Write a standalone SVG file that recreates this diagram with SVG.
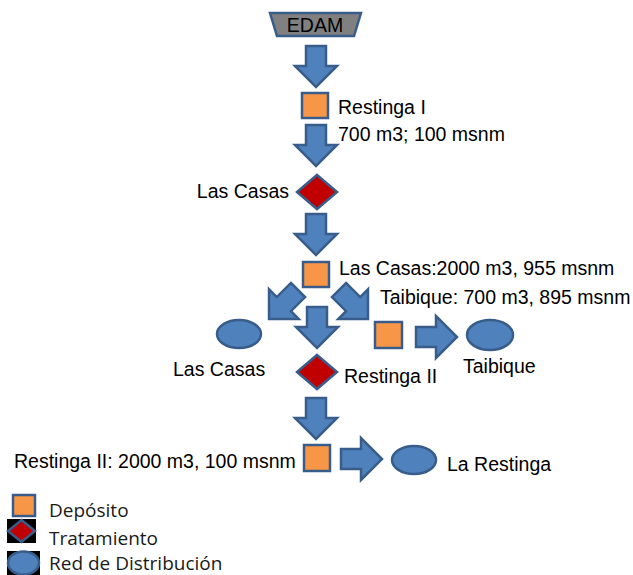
<svg xmlns="http://www.w3.org/2000/svg" width="633" height="575" viewBox="0 0 633 575">
<style>
.arr{fill:#4f81bd;stroke:#385d8a;stroke-width:2.5;stroke-linejoin:miter}
.dep{fill:#f79646;stroke:#385d8a;stroke-width:2.5}
.tra{fill:#c00000;stroke:#385d8a;stroke-width:2.5}
.red{fill:#4f81bd;stroke:#385d8a;stroke-width:2.5}
.t{font-family:"Liberation Sans",Arial,sans-serif;font-size:19.5px;fill:#000}
.lg{font-family:"Open Sans","Noto Sans",sans-serif;font-size:19px;fill:#1a1a1a}
</style>
<defs>
<path id="down" d="M-10,0 H10 V20 H21 L0,41 L-21,20 H-10 Z"/>
</defs>
<rect width="633" height="575" fill="#fff"/>
<g id="connectors">
<use href="#down" class="arr" transform="translate(316,46)"/>
<use href="#down" class="arr" transform="translate(316,125)"/>
<use href="#down" class="arr" transform="translate(316,214)"/>
<use href="#down" class="arr" transform="translate(317,307)"/>
<use href="#down" class="arr" transform="translate(316,398)"/>
<use href="#down" class="arr" transform="translate(298,290) rotate(45)"/>
<use href="#down" class="arr" transform="translate(339,290) rotate(-45)"/>
<use href="#down" class="arr" transform="translate(416,337) rotate(-90)"/>
<use href="#down" class="arr" transform="translate(341,459) rotate(-90)"/>
</g>
<g id="edam">
<path d="M270,13 H361 L354,36 H277 Z" fill="#808080" stroke="#385d8a" stroke-width="2.5"/>
<text class="t" x="315" y="32" text-anchor="middle">EDAM</text>
</g>
<g id="restinga1">
<rect class="dep" x="302" y="93" width="26" height="25"/>
<text class="t" x="338" y="114">Restinga I</text>
<text class="t" x="338" y="141">700 m3; 100 msnm</text>
</g>
<g id="trat-lascasas">
<path class="tra" d="M317,175 L337,192 L317,209 L297,192 Z"/>
<text class="t" x="289" y="198" text-anchor="end">Las Casas</text>
</g>
<g id="dep-lascasas">
<rect class="dep" x="303" y="262" width="26" height="25"/>
<text class="t" x="339" y="275">Las Casas:2000 m3, 955 msnm</text>
</g>
<g id="dep-taibique">
<rect class="dep" x="375" y="322" width="27" height="26"/>
<text class="t" x="380" y="304">Taibique: 700 m3, 895 msnm</text>
</g>
<g id="red-lascasas">
<ellipse class="red" cx="239" cy="334" rx="22" ry="14"/>
<text class="t" x="173" y="376">Las Casas</text>
</g>
<g id="red-taibique">
<ellipse class="red" cx="490" cy="335" rx="23" ry="15"/>
<text class="t" x="463" y="373">Taibique</text>
</g>
<g id="trat-restinga2">
<path class="tra" d="M317,355 L337,372 L317,389 L297,372 Z"/>
<text class="t" x="344" y="383">Restinga II</text>
</g>
<g id="dep-restinga2">
<rect class="dep" x="304" y="445" width="26" height="26"/>
<text class="t" x="14" y="468">Restinga II: 2000 m3, 100 msnm</text>
</g>
<g id="red-larestinga">
<ellipse class="red" cx="414" cy="460" rx="22" ry="14"/>
<text class="t" x="447" y="471">La Restinga</text>
</g>
<g id="legend">
<rect class="dep" x="13" y="495" width="22" height="21"/>
<text class="lg" x="49" y="517">Depósito</text>
<rect x="7" y="519" width="29" height="24" fill="#000"/>
<path class="tra" d="M21.5,520 L35,531 L21.5,542 L8,531 Z"/>
<text class="lg" x="49" y="545">Tratamiento</text>
<rect x="7" y="551" width="33" height="24" fill="#000"/>
<ellipse class="red" cx="23.5" cy="563" rx="15.5" ry="11.5"/>
<text class="lg" x="49" y="570">Red de Distribución</text>
</g>
</svg>
